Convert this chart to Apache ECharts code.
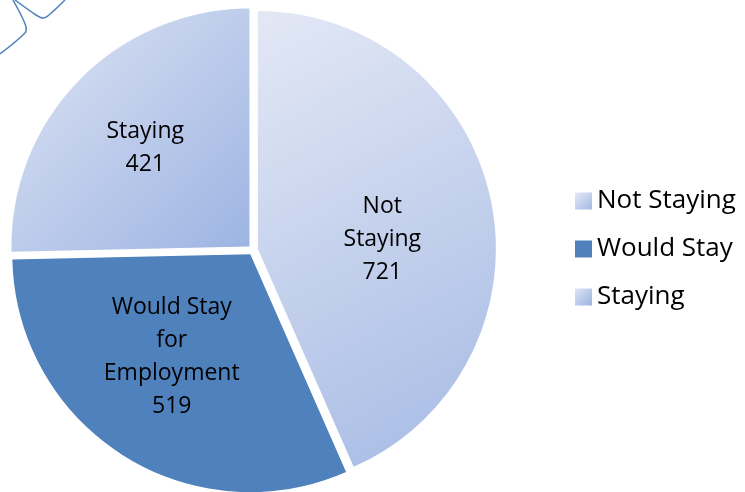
<!DOCTYPE html>
<html><head><meta charset="utf-8">
<script src="https://cdn.jsdelivr.net/npm/echarts@6/dist/echarts.min.js"></script>
<style>html,body{margin:0;padding:0;background:#fff}#c{width:745px;height:492px}</style>
</head><body><div id="c"></div>
<script>
const categories = ['Not Staying', 'Would Stay for Employment', 'Staying'];
const legendNames = ['Not Staying', 'Would Stay', 'Staying'];
const values = [721, 519, 421];
const labelTexts = ['Not\nStaying', 'Would Stay\nfor\nEmployment', 'Staying'];
const labelShifts = [[5, 16], [-13, 0], [-17, -13]];

const font = 'Open Sans';
const fills = [
  {type:'linear',x:0,y:0,x2:1,y2:1,colorStops:[{offset:0,color:'#e3e8f5'},{offset:1,color:'#a5bae4'}]},
  '#4f81bd',
  {type:'linear',x:0,y:0,x2:1,y2:1,colorStops:[{offset:0,color:'#dfe5f4'},{offset:1,color:'#9cb3e2'}]}
];

const chart = echarts.init(document.getElementById('c'), null, {renderer:'canvas'});
chart.setOption({
  backgroundColor:'#ffffff',
  animation:false,
  graphic:[
    {type:'polyline', shape:{points:[[0,54],[25,33],[26,27],[22,17],[13,0]], smooth:0.3}, style:{stroke:'#4f81bd', lineWidth:1.5, fill:null}},
    {type:'polyline', shape:{points:[[15,0],[36,15],[43,18],[49,15],[65,0]], smooth:0.3}, style:{stroke:'#4f81bd', lineWidth:1.5, fill:null}}
  ],
  legend:{
    orient:'vertical', left:570, top:183, itemGap:22, itemWidth:17, itemHeight:17,
    icon:'rect', itemStyle:{borderWidth:0},
    textStyle:{fontFamily:font, fontSize:26, color:'#000'},
    formatter:function(n){return legendNames[categories.indexOf(n)];},
    data:categories
  },
  series:[{
    type:'pie',
    center:[253,250],
    radius:238,
    startAngle:90,
    clockwise:true,
    selectedMode:'multiple',
    selectedOffset:5,
    label:{position:'inside', color:'#000', fontFamily:font, fontSize:23, lineHeight:33,
      formatter:function(p){return labelTexts[p.dataIndex]+'\n'+p.value;}},
    labelLayout:function(p){var s=labelShifts[p.dataIndex];return {dx:s[0], dy:s[1]};},
    labelLine:{show:false},
    emphasis:{disabled:true},
    itemStyle:{borderWidth:0},
    data:categories.map(function(c,i){return {name:c, value:values[i], selected:true,
      itemStyle:{color:fills[i]}, select:{itemStyle:{color:fills[i]}}};})
  }]
});
</script></body></html>
